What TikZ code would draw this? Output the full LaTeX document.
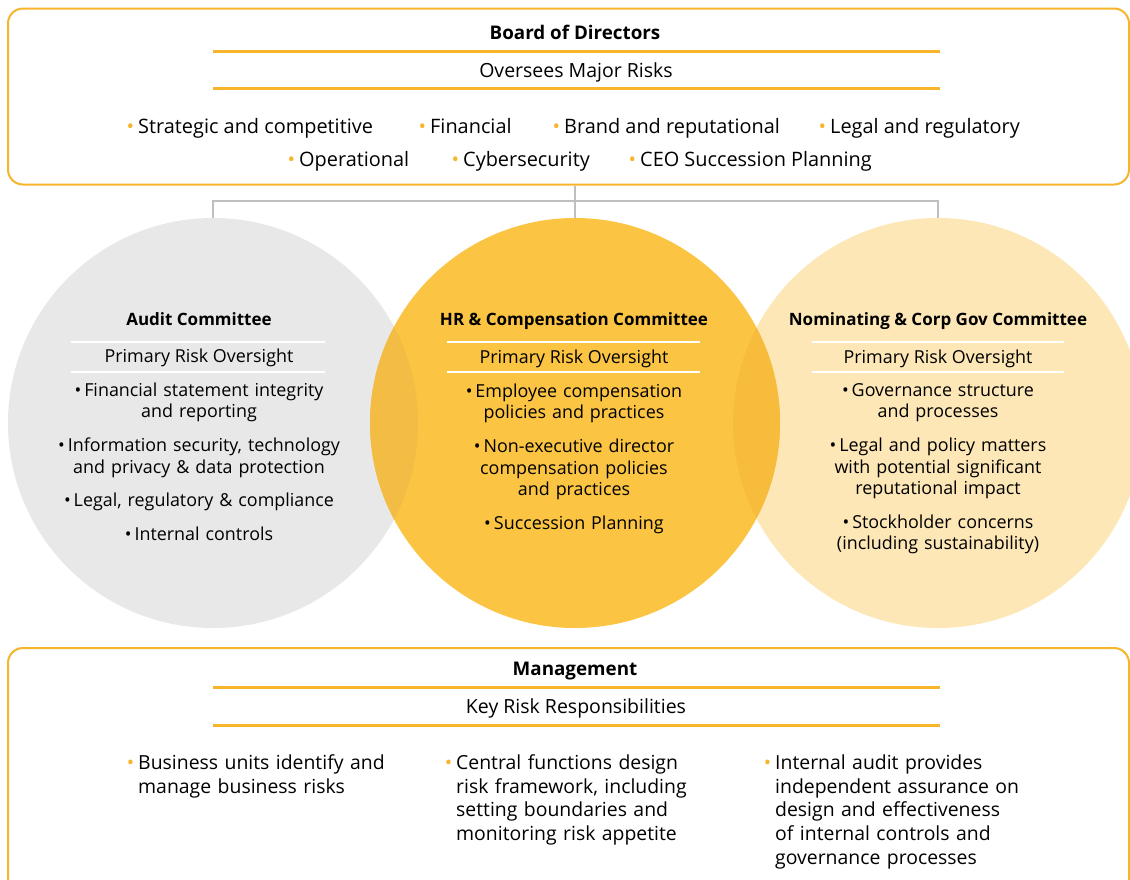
\documentclass[tikz,border=0pt]{standalone}
\usepackage{fontspec}
\setmainfont{Open Sans}
\definecolor{orangeline}{HTML}{F7B52C}
\definecolor{cgray}{HTML}{E8E8E8}
\definecolor{chr}{HTML}{FBC443}
\definecolor{cnom}{HTML}{FDE7B6}
\definecolor{overL}{HTML}{F2BC45}
\definecolor{overR}{HTML}{F7BC3C}
\definecolor{conngray}{HTML}{BFBFBF}
\newcommand\ob{\llap{\textcolor{orangeline}{\textbullet}\hspace{4pt}}}
\begin{document}
\begin{tikzpicture}[x=1pt,y=-1pt,
  bx/.style={draw=orangeline,line width=2pt,rounded corners=15pt,inner sep=0pt},
  circ/.style={circle,inner sep=0pt,minimum size=410pt},
  conn/.style={draw=conngray,line width=1.6pt},
  orule/.style={draw=orangeline,line width=2.2pt},
  wrule/.style={draw=white,line width=1.6pt},
  head/.style={font=\fontsize{18.8}{24}\selectfont\bfseries,anchor=base,inner sep=0pt},
  sub/.style={font=\fontsize{19.5}{24}\selectfont,anchor=base,inner sep=0pt},
  item/.style={font=\fontsize{19.9}{23.8}\selectfont,anchor=base west,inner sep=0pt},
  bitem/.style={font=\fontsize{19.4}{23.8}\selectfont,anchor=base west,inner sep=0pt,text width=330pt,align=left},
  ctitle/.style={font=\fontsize{17}{21.5}\selectfont\bfseries,anchor=base,inner sep=0pt},
  cprim/.style={font=\fontsize{17.9}{21.5}\selectfont,anchor=base,inner sep=0pt},
  ctext/.style={font=\fontsize{17.9}{21.5}\selectfont,anchor=base,inner sep=0pt,text width=340pt,align=center},
]
\useasboundingbox (0,0) rectangle (1130,879);
\clip (0,0) rectangle (1130,879);
\fill[white] (0,0) rectangle (1130,879);

% circles
\node[circ,fill=cgray] (audit) at (213,423) {};
\node[circ,fill=cnom] (nom) at (938,423) {};
\node[circ,fill=chr] (hr) at (575,423) {};
\begin{scope}
  \clip (audit.center) circle[radius=205pt];
  \fill[overL] (hr.center) circle[radius=205pt];
\end{scope}
\begin{scope}
  \clip (nom.center) circle[radius=205pt];
  \fill[overR] (hr.center) circle[radius=205pt];
\end{scope}

% top box
\node[bx,minimum width=1121pt,minimum height=176pt] (board) at (568.5,96.5) {};
\node[head] (bodt) at (575,39) {Board of Directors};
\draw[orule] (213,51.5) -- (940,51.5);
\node[sub] (omr) at (576,77) {Oversees Major Risks};
\draw[orule] (213,88.5) -- (940,88.5);
\node[item] (r1) at (138,133) {\ob Strategic and competitive};
\node[item] (r2) at (430,133) {\ob Financial};
\node[item] (r3) at (564,133) {\ob Brand and reputational};
\node[item] (r4) at (830,133) {\ob Legal and regulatory};
\node[item] (r5) at (299,166) {\ob Operational};
\node[item] (r6) at (463,166) {\ob Cybersecurity};
\node[item] (r7) at (640,166) {\ob CEO Succession Planning};

% connectors
\coordinate (bus) at (575,201);
\draw[conn] (hr.north |- board.south) -- (hr.north);
\draw[conn] (audit.north) -- (audit.north |- bus) -- (nom.north |- bus) -- (nom.north);

% audit committee
\node[ctitle] (at) at (199,325) {Audit Committee};
\draw[wrule] (71,342) -- (325,342);
\node[cprim] (ap) at (199,362.7) {Primary Risk Oversight};
\draw[wrule] (71,372) -- (325,372);
\node[ctext] (a1) at (199,396) {\textbullet\,Financial statement integrity\\and reporting};
\node[ctext] (a2) at (199,451.7) {\textbullet\,Information security, technology\\and privacy \& data protection};
\node[ctext] (a3) at (199,506.7) {\textbullet\,Legal, regulatory \& compliance};
\node[ctext] (a4) at (199,540) {\textbullet\,Internal controls};

% HR committee
\node[ctitle] (ht) at (574,325) {HR \& Compensation Committee};
\draw[wrule] (447,342) -- (700,342);
\node[cprim] (hp) at (574,363) {Primary Risk Oversight};
\draw[wrule] (447,372) -- (700,372);
\node[ctext] (h1) at (574,397) {\textbullet\,Employee compensation\\policies and practices};
\node[ctext] (h2) at (574,452.7) {\textbullet\,Non-executive director\\compensation policies\\and practices};
\node[ctext] (h3) at (574,529) {\textbullet\,Succession Planning};

% nominating committee
\node[ctitle] (nt) at (938,325) {Nominating \& Corp Gov Committee};
\draw[wrule] (812,342) -- (1064,342);
\node[cprim] (np) at (938,363) {Primary Risk Oversight};
\draw[wrule] (812,372) -- (1064,372);
\node[ctext] (n1) at (938,396) {\textbullet\,Governance structure\\and processes};
\node[ctext] (n2) at (938,451.7) {\textbullet\,Legal and policy matters\\with potential significant\\reputational impact};
\node[ctext] (n3) at (938,528) {\textbullet\,Stockholder concerns\\(including sustainability)};

% bottom box
\node[bx,minimum width=1121pt,minimum height=260pt] (mgmt) at (568.5,778) {};
\node[head] (mt) at (575,675) {Management};
\draw[orule] (213,687.5) -- (940,687.5);
\node[sub] (kr) at (576,713) {Key Risk Responsibilities};
\draw[orule] (213,725.5) -- (940,725.5);
\node[bitem] (b1) at (138,769.3) {\ob Business units identify and\\manage business risks};
\node[bitem] (b2) at (456,769.3) {\ob Central functions design\\risk framework, including\\setting boundaries and\\monitoring risk appetite};
\node[bitem] (b3) at (775,769.3) {\ob Internal audit provides\\independent assurance on\\design and effectiveness\\of internal controls and\\governance processes};
\end{tikzpicture}
\end{document}
